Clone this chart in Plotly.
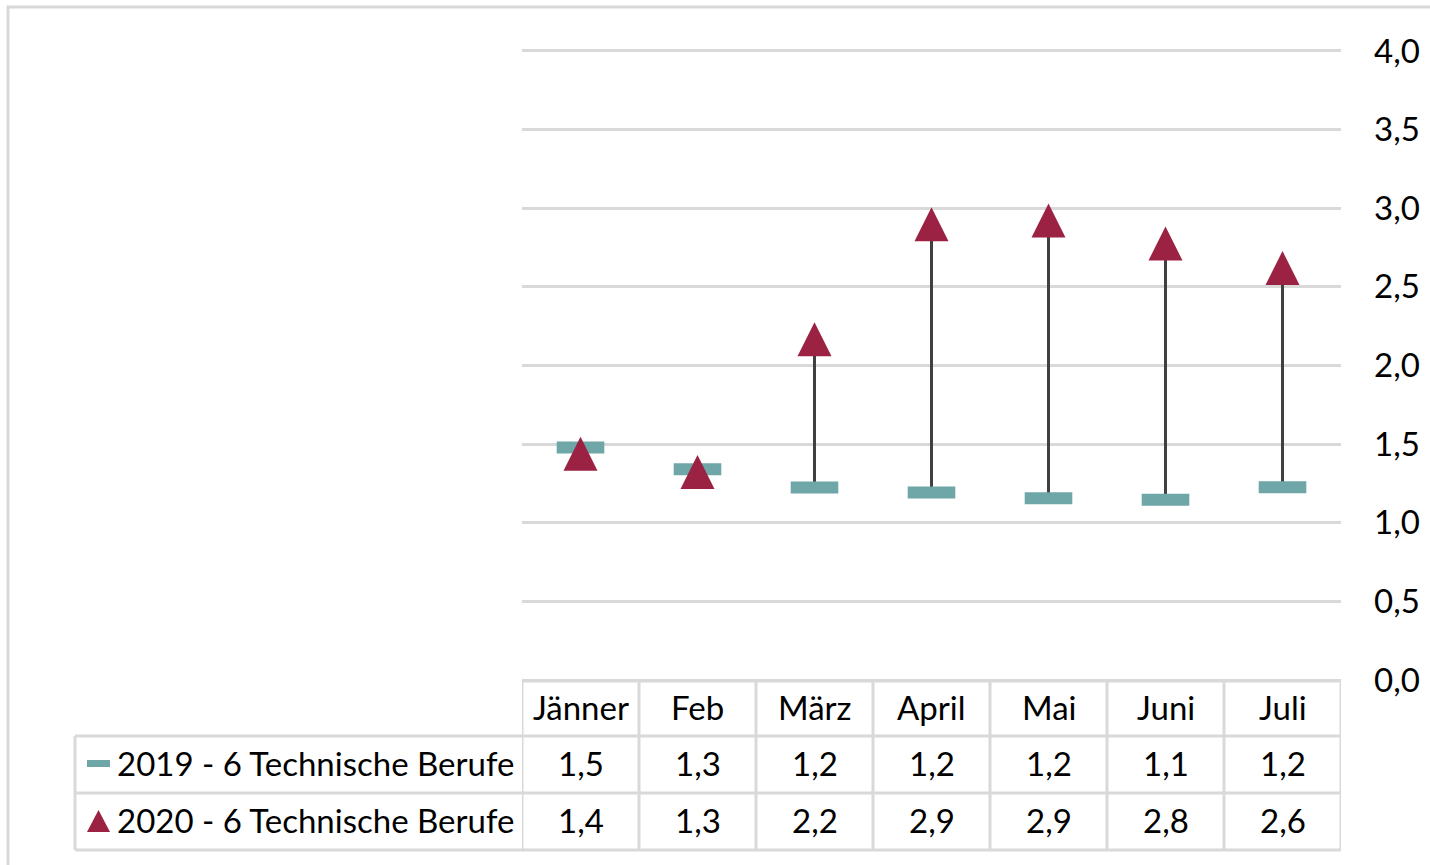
import plotly.graph_objects as go

# ---------------- data ----------------
months = ["Jänner", "Feb", "März", "April", "Mai", "Juni", "Juli"]
series_2019_name = "2019 - 6 Technische Berufe"
series_2020_name = "2020 - 6 Technische Berufe"
values_2019 = [1.478, 1.34, 1.224, 1.193, 1.156, 1.147, 1.226]
values_2020 = [1.438, 1.322, 2.167, 2.898, 2.922, 2.776, 2.62]
y_ticks = [0.0, 0.5, 1.0, 1.5, 2.0, 2.5, 3.0, 3.5, 4.0]

# ---------------- style ----------------
W, H = 1430, 865
TEAL = "#6FA6A8"
RED = "#9B2243"
GRID = "#D9D9D9"
STEM = "#404040"
FONT = "Lato"
FS = 33
PAD = 0.02          # small range padding so the 4,0 gridline is drawn
UNIT = (680 - 51) / 4.0   # pixels per y unit


def px(x):
    return x / W


def py(y):
    return 1 - y / H


def fmt(v):
    return f"{v:.1f}".replace(".", ",")


fig = go.Figure()

# high-low stems
sx, sy = [], []
for m, a, b in zip(months, values_2019, values_2020):
    sx += [m, m, m]
    sy += [a, b, None]
fig.add_trace(go.Scatter(x=sx, y=sy, mode="lines",
                         line=dict(color=STEM, width=3),
                         hoverinfo="skip", showlegend=False))

fig.add_trace(go.Scatter(
    x=months, y=values_2019, mode="markers", name=series_2019_name,
    marker=dict(symbol="line-ew", size=34, color=TEAL,
                line=dict(color=TEAL, width=12)),
    showlegend=False))

fig.add_trace(go.Scatter(
    x=months, y=values_2020, mode="markers", name=series_2020_name,
    marker=dict(symbol="arrow-down", size=34, angle=180, standoff=17,
                color=RED, line=dict(width=0)),
    showlegend=False))

shapes = []
line_style = dict(color=GRID, width=3)
# outer chart border
shapes.append(dict(type="rect", xref="paper", yref="paper",
                   x0=px(8), x1=px(1450), y0=py(7), y1=py(890),
                   line=line_style, layer="below"))
# table horizontal lines
shapes.append(dict(type="line", xref="x", yref="paper", x0=-0.5, x1=6.5,
                   y0=py(681), y1=py(681), line=line_style, layer="above"))
for yy in [736, 793, 850]:
    shapes.append(dict(type="line", xref="paper", yref="paper",
                       x0=px(75), x1=px(1341), y0=py(yy), y1=py(yy),
                       line=line_style, layer="above"))
# table vertical lines
shapes.append(dict(type="line", xref="paper", yref="paper",
                   x0=px(75), x1=px(75), y0=py(736), y1=py(850),
                   line=line_style, layer="above"))
for i in range(len(months) + 1):
    shapes.append(dict(type="line", xref="x", yref="paper",
                       x0=i - 0.5, x1=i - 0.5, y0=py(681), y1=py(850),
                       line=line_style, layer="above"))
# legend keys in the table
shapes.append(dict(type="rect", xref="paper", yref="paper",
                   x0=px(87), x1=px(110), y0=py(760), y1=py(767),
                   fillcolor=TEAL, line=dict(width=0)))
shapes.append(dict(type="path", xref="paper", yref="paper",
                   path=f"M {px(87)},{py(832)} L {px(110)},{py(832)} L {px(98.5)},{py(810)} Z",
                   fillcolor=RED, line=dict(width=0)))

annotations = []
font = dict(family=FONT, size=FS, color="#000000")
for m, a, b in zip(months, values_2019, values_2020):
    annotations.append(dict(x=m, xref="x", y=py(707), yref="paper", text=m,
                            showarrow=False, font=font, xanchor="center", yanchor="middle"))
    annotations.append(dict(x=m, xref="x", y=py(763), yref="paper", text=fmt(a),
                            showarrow=False, font=font, xanchor="center", yanchor="middle"))
    annotations.append(dict(x=m, xref="x", y=py(820), yref="paper", text=fmt(b),
                            showarrow=False, font=font, xanchor="center", yanchor="middle"))
annotations.append(dict(x=px(115), xref="paper", y=py(763), yref="paper", text=series_2019_name,
                        showarrow=False, font=font, xanchor="left", yanchor="middle"))
annotations.append(dict(x=px(115), xref="paper", y=py(820), yref="paper", text=series_2020_name,
                        showarrow=False, font=font, xanchor="left", yanchor="middle"))

fig.update_layout(
    template="none",
    width=W, height=H, autosize=False,
    margin=dict(l=0, r=0, t=0, b=0, pad=0),
    paper_bgcolor="white", plot_bgcolor="white",
    separators=",.",
    showlegend=False,
    font=dict(family=FONT, size=FS, color="#000000"),
    xaxis=dict(domain=[px(522), px(1341)], range=[-0.5, 6.5],
               type="category", categoryorder="array", categoryarray=months,
               showticklabels=False, showgrid=False, zeroline=False,
               showline=False, ticks="", automargin=False),
    yaxis=dict(domain=[py(680 + PAD * UNIT), py(51 - PAD * UNIT)],
               range=[-PAD, 4 + PAD], side="right",
               tickvals=y_ticks, tickformat=".1f",
               showgrid=True, gridcolor=GRID, gridwidth=3,
               zeroline=False, showline=False, ticks="",
               ticklabelstandoff=32, automargin=False,
               tickfont=dict(family=FONT, size=FS, color="#000000")),
    shapes=shapes,
    annotations=annotations,
)

fig.write_html(
    "out.html",
    config={"responsive": False, "displayModeBar": False},
    post_script="document.body.style.margin='0';document.body.style.overflow='hidden';",
)
